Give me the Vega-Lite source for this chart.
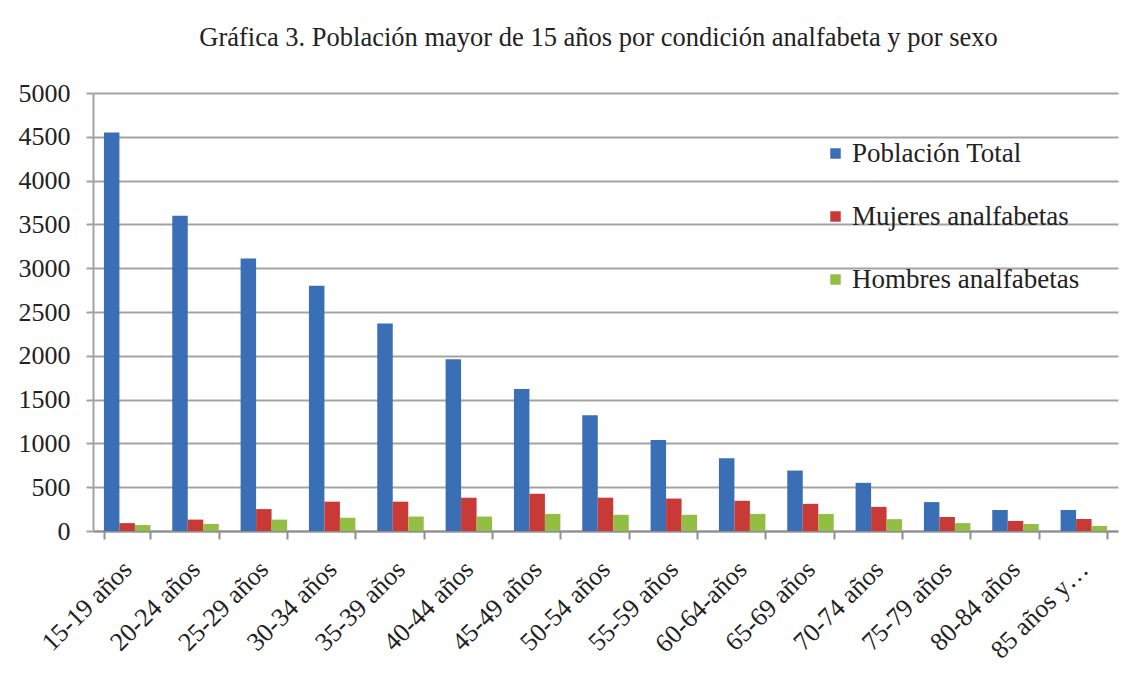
{
  "$schema": "https://vega.github.io/schema/vega-lite/v6.json",
  "width": 1025,
  "height": 438,
  "autosize": {"type": "none"},
  "padding": {"left": 93, "top": 93, "right": 13, "bottom": 142},
  "background": "white",
  "title": {
    "text": "Gráfica 3. Población mayor de 15 años por condición analfabeta y por sexo",
    "font": "Liberation Serif, Times New Roman, serif",
    "fontSize": 26.5,
    "fontWeight": "normal",
    "color": "#222222",
    "anchor": "middle",
    "frame": "group",
    "offset": 29,
    "dx": -7
  },
  "data": {
    "values": [
      {"grupo": "15-19 años", "serie": "Población Total", "valor": 4550},
      {"grupo": "15-19 años", "serie": "Mujeres analfabetas", "valor": 90},
      {"grupo": "15-19 años", "serie": "Hombres analfabetas", "valor": 68},
      {"grupo": "20-24 años", "serie": "Población Total", "valor": 3600},
      {"grupo": "20-24 años", "serie": "Mujeres analfabetas", "valor": 130},
      {"grupo": "20-24 años", "serie": "Hombres analfabetas", "valor": 80},
      {"grupo": "25-29 años", "serie": "Población Total", "valor": 3110},
      {"grupo": "25-29 años", "serie": "Mujeres analfabetas", "valor": 250},
      {"grupo": "25-29 años", "serie": "Hombres analfabetas", "valor": 130},
      {"grupo": "30-34 años", "serie": "Población Total", "valor": 2800},
      {"grupo": "30-34 años", "serie": "Mujeres analfabetas", "valor": 335},
      {"grupo": "30-34 años", "serie": "Hombres analfabetas", "valor": 150},
      {"grupo": "35-39 años", "serie": "Población Total", "valor": 2370},
      {"grupo": "35-39 años", "serie": "Mujeres analfabetas", "valor": 335},
      {"grupo": "35-39 años", "serie": "Hombres analfabetas", "valor": 165},
      {"grupo": "40-44 años", "serie": "Población Total", "valor": 1960},
      {"grupo": "40-44 años", "serie": "Mujeres analfabetas", "valor": 380},
      {"grupo": "40-44 años", "serie": "Hombres analfabetas", "valor": 165},
      {"grupo": "45-49 años", "serie": "Población Total", "valor": 1620},
      {"grupo": "45-49 años", "serie": "Mujeres analfabetas", "valor": 425},
      {"grupo": "45-49 años", "serie": "Hombres analfabetas", "valor": 195},
      {"grupo": "50-54 años", "serie": "Población Total", "valor": 1320},
      {"grupo": "50-54 años", "serie": "Mujeres analfabetas", "valor": 380},
      {"grupo": "50-54 años", "serie": "Hombres analfabetas", "valor": 185},
      {"grupo": "55-59 años", "serie": "Población Total", "valor": 1040},
      {"grupo": "55-59 años", "serie": "Mujeres analfabetas", "valor": 370},
      {"grupo": "55-59 años", "serie": "Hombres analfabetas", "valor": 185},
      {"grupo": "60-64-años", "serie": "Población Total", "valor": 830},
      {"grupo": "60-64-años", "serie": "Mujeres analfabetas", "valor": 345},
      {"grupo": "60-64-años", "serie": "Hombres analfabetas", "valor": 195},
      {"grupo": "65-69 años", "serie": "Población Total", "valor": 690},
      {"grupo": "65-69 años", "serie": "Mujeres analfabetas", "valor": 310},
      {"grupo": "65-69 años", "serie": "Hombres analfabetas", "valor": 195},
      {"grupo": "70-74 años", "serie": "Población Total", "valor": 550},
      {"grupo": "70-74 años", "serie": "Mujeres analfabetas", "valor": 275},
      {"grupo": "70-74 años", "serie": "Hombres analfabetas", "valor": 135},
      {"grupo": "75-79 años", "serie": "Población Total", "valor": 330},
      {"grupo": "75-79 años", "serie": "Mujeres analfabetas", "valor": 160},
      {"grupo": "75-79 años", "serie": "Hombres analfabetas", "valor": 90},
      {"grupo": "80-84 años", "serie": "Población Total", "valor": 240},
      {"grupo": "80-84 años", "serie": "Mujeres analfabetas", "valor": 115},
      {"grupo": "80-84 años", "serie": "Hombres analfabetas", "valor": 80},
      {"grupo": "85 años y…", "serie": "Población Total", "valor": 240},
      {"grupo": "85 años y…", "serie": "Mujeres analfabetas", "valor": 137},
      {"grupo": "85 años y…", "serie": "Hombres analfabetas", "valor": 57}
    ]
  },
  "mark": {"type": "bar"},
  "encoding": {
    "x": {
      "field": "grupo",
      "type": "nominal",
      "sort": null,
      "title": null,
      "scale": {"paddingInner": 0.32, "paddingOuter": 0.16},
      "axis": {
        "labelAngle": -45,
        "labelAlign": "right",
        "labelBaseline": "middle",
        "labelFont": "Liberation Serif, Times New Roman, serif",
        "labelFontSize": 26,
        "labelColor": "#222222",
        "labelPadding": 26,
        "labelLimit": 200,
        "tickBand": "extent",
        "tickSize": 8,
        "tickColor": "#8f8f8f",
        "tickWidth": 2,
        "domainColor": "#8f8f8f",
        "domainWidth": 2,
        "grid": false
      }
    },
    "xOffset": {
      "field": "serie",
      "type": "nominal",
      "sort": ["Población Total", "Mujeres analfabetas", "Hombres analfabetas"],
      "scale": {"paddingInner": 0, "paddingOuter": 0}
    },
    "y": {
      "field": "valor",
      "type": "quantitative",
      "title": null,
      "scale": {"domain": [0, 5000], "nice": false},
      "axis": {
        "values": [0, 500, 1000, 1500, 2000, 2500, 3000, 3500, 4000, 4500, 5000],
        "format": "d",
        "labelFont": "Liberation Serif, Times New Roman, serif",
        "labelFontSize": 26,
        "labelColor": "#222222",
        "labelPadding": 16,
        "tickSize": 7,
        "tickColor": "#a3a3a3",
        "tickWidth": 2,
        "domainColor": "#a3a3a3",
        "domainWidth": 2,
        "gridColor": "#a3a3a3",
        "gridWidth": 2
      }
    },
    "color": {
      "field": "serie",
      "type": "nominal",
      "sort": ["Población Total", "Mujeres analfabetas", "Hombres analfabetas"],
      "scale": {
        "domain": ["Población Total", "Mujeres analfabetas", "Hombres analfabetas"],
        "range": ["#3a6fb5", "#c93a37", "#93be44"]
      },
      "legend": {
        "title": null,
        "orient": "none",
        "legendX": 729,
        "legendY": 47,
        "symbolType": "square",
        "symbolSize": 110,
        "symbolStrokeWidth": 0,
        "labelFont": "Liberation Serif, Times New Roman, serif",
        "labelFontSize": 27,
        "labelColor": "#222222",
        "labelOffset": 3,
        "rowPadding": 35,
        "labelLimit": 300
      }
    }
  },
  "config": {
    "view": {"stroke": null}
  }
}
